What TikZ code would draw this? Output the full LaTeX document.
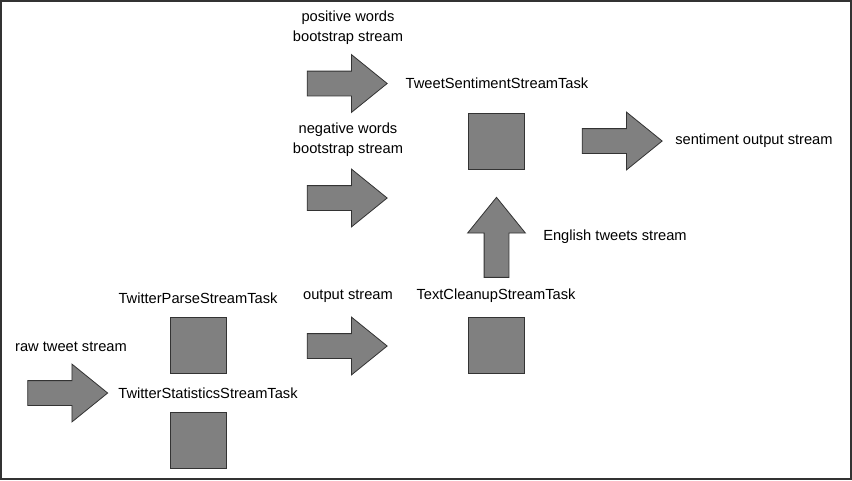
\documentclass[tikz,border=0pt]{standalone}
\usepackage{fontspec}
\setmainfont{Liberation Sans}
\usepackage{xcolor}
\usepackage{tikz}
\usetikzlibrary{
	shapes.arrows,
	arrows.meta,
	positioning,
	calc
}
\definecolor{taskgray}{HTML}{808080}
\definecolor{edgegray}{HTML}{333333}

\begin{document}
\begin{tikzpicture}[
				x=0.75pt, y=-0.75pt,
				every node/.style={font=\fontsize{11}{15}\selectfont},
				task/.style={
					rectangle, draw=edgegray, fill=taskgray, line width=0.6pt,
					minimum width=42pt, minimum height=42pt, inner sep=0pt
				},
				flow/.style={
					single arrow, draw=edgegray, fill=taskgray, line width=0.6pt,
					inner xsep=0pt, inner ysep=9pt,
					minimum height=60pt,
					single arrow head extend=12.4pt,
					single arrow tip angle=78
				},
				caption/.style={align=center, inner sep=0pt}
				]
				
				% frame
				\useasboundingbox (0,0) rectangle (852,480);
				\draw[line width=1.2pt, edgegray] (0.8,0.8) rectangle (851.2,479.2) ;
				
				% raw input
				\node[caption] (rawText) at (71,347) {raw tweet stream};
				\node[flow] (rawArrow) at (60,393) {};
				
				% parse and statistics tasks
				\node[caption] (parseText) at (198,298) {TwitterParseStreamTask};
				\node[task] (parse) at (198.5,345.5) {};
				\node[caption] (statsText) at (208,393) {TwitterStatisticsStreamTask};
				\node[task] (stats) at (198.5,440) {};
				
				% output stream
				\node[caption] (outText) at (348,296) {output stream};
				\node[flow] (outArrow) at (339.5,346) {};
				
				% cleanup task
				\node[caption] (cleanupText) at (496,296) {TextCleanupStreamTask};
				\node[task] (cleanup) at (496.5,345.5) {};
				
				% english tweets
				\node[flow, rotate=90] (englishArrow) at (496.5,245) {};
				\node[caption, anchor=west] (englishText) at (543,237) {English tweets stream};
				
				% bootstrap streams
				\node[caption] (posText) at (348,28) {positive words\\bootstrap stream};
				\node[flow] (posArrow) at (339.5,83.5) {};
				\node[caption] (negText) at (348,140) {negative words\\bootstrap stream};
				\node[flow] (negArrow) at (339.5,198) {};
				
				% sentiment task
				\node[caption] (sentimentText) at (497,83) {TweetSentimentStreamTask};
				\node[task] (sentiment) at (496,141) {};
				
				% final output
				\node[flow] (sentArrow) at (614.5,141) {};
				\node[caption, anchor=west] (sentText) at (675,141) {sentiment output stream};
			\end{tikzpicture}
\end{document}
